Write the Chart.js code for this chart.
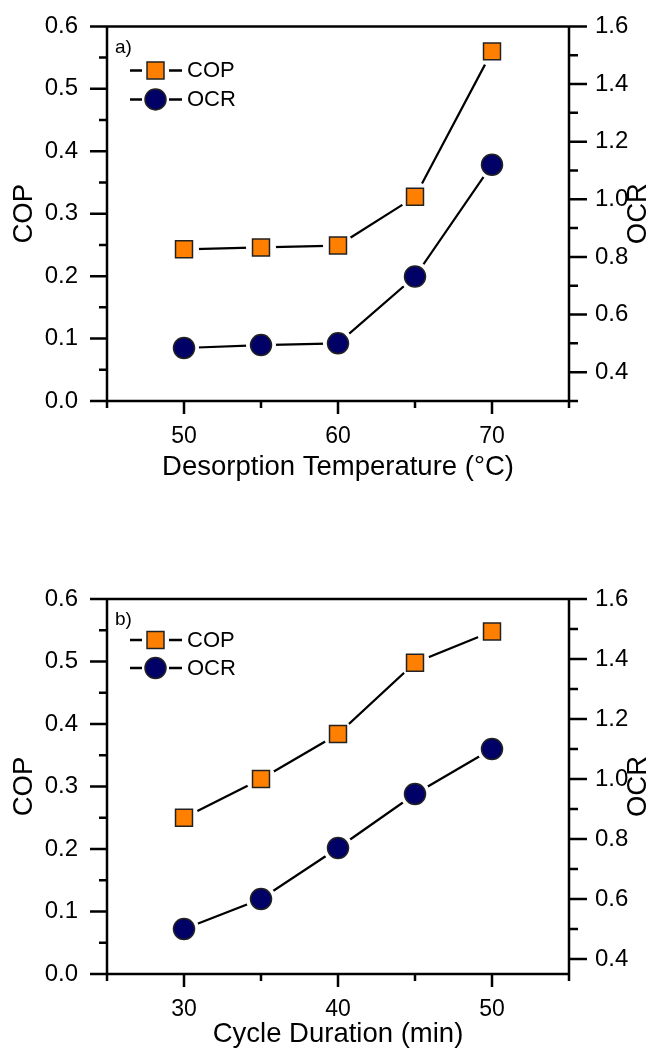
<!DOCTYPE html>
<html>
<head>
<meta charset="utf-8">
<title>COP and OCR</title>
<script src="https://cdn.jsdelivr.net/npm/chart.js@4.4.0/dist/chart.umd.min.js"></script>
<style>
    body { margin: 0; background: #fff; }
    canvas { display: block; }
</style>
</head>
<body>
<canvas id="chart-a" width="656" height="525"></canvas>
<canvas id="chart-b" width="656" height="524"></canvas>
<script>
// a) desorption temperature sweep
const tempValues = [50, 55, 60, 65, 70];
const copByTemp = [0.243, 0.246, 0.249, 0.327, 0.560];
const ocrByTemp = [0.484, 0.494, 0.500, 0.732, 1.120];

// b) cycle duration sweep
const durationValues = [30, 35, 40, 45, 50];
const copByDuration = [0.250, 0.312, 0.384, 0.498, 0.548];
const ocrByDuration = [0.50, 0.60, 0.77, 0.95, 1.10];

// axis ticks
const copTicks = [0, 0.1, 0.2, 0.3, 0.4, 0.5, 0.6];
const copMinorTicks = [0.05, 0.15, 0.25, 0.35, 0.45, 0.55];
const ocrTicks = [0.4, 0.6, 0.8, 1.0, 1.2, 1.4, 1.6];
const ocrMinorTicksA = [0.3, 0.5, 0.7, 0.9, 1.1, 1.3, 1.5];
const ocrMinorTicksB = [0.5, 0.7, 0.9, 1.1, 1.3, 1.5];
const tempTicks = [50, 60, 70];
const tempMinorTicks = [45, 55, 65, 75];
const durationTicks = [30, 40, 50];
const durationMinorTicks = [25, 35, 45, 55];

const ORANGE = '#ff8000';
const NAVY = '#000066';
const EDGE = '#222';
const FONT = "'Liberation Sans', Arial, sans-serif";

Chart.defaults.font.family = FONT;
Chart.defaults.color = '#000';

// frame, outward ticks, axis titles and the inset legend
const framePlugin = {
    id: 'frame',
    afterDatasetsDraw(chart, args, opts) {
        const { ctx, chartArea: a, scales } = chart;
        ctx.save();
        ctx.strokeStyle = '#000';
        ctx.lineWidth = 2.5;
        ctx.beginPath();
        ctx.rect(a.left, a.top, a.right - a.left, a.bottom - a.top);

        const tick = (list, len, fn) => list.forEach(v => fn(v, len));
        const left = (v, len) => { const y = scales.y.getPixelForValue(v); ctx.moveTo(a.left, y); ctx.lineTo(a.left - len, y); };
        const right = (v, len) => { const y = scales.y2.getPixelForValue(v); ctx.moveTo(a.right, y); ctx.lineTo(a.right + len, y); };
        const bottom = (v, len) => { const x = scales.x.getPixelForValue(v); ctx.moveTo(x, a.bottom); ctx.lineTo(x, a.bottom + len); };

        tick(copTicks, 17, left);
        tick(copMinorTicks, 8, left);
        tick(ocrTicks, 18, right);
        tick(opts.ocrMinor, 9, right);
        tick(opts.xMajor, 13, bottom);
        tick(opts.xMinor, 7, bottom);
        ctx.stroke();

        // axis titles
        ctx.fillStyle = '#000';
        ctx.font = '27.5px ' + FONT;
        ctx.textAlign = 'center';
        ctx.textBaseline = 'middle';
        const midY = (a.top + a.bottom) / 2;
        ctx.fillText(opts.xTitle, (a.left + a.right) / 2, a.bottom + opts.xTitleOffset);
        ctx.save();
        ctx.translate(24, midY);
        ctx.rotate(-Math.PI / 2);
        ctx.fillText('COP', 0, 0);
        ctx.restore();
        ctx.save();
        ctx.translate(638, midY);
        ctx.rotate(-Math.PI / 2);
        ctx.fillText('OCR', 0, 0);
        ctx.restore();

        // panel tag and legend
        ctx.textAlign = 'left';
        ctx.font = '19px ' + FONT;
        ctx.fillText(opts.tag, a.left + 8, a.top + 21);
        ctx.font = '22px ' + FONT;
        const rows = [
            { label: 'COP', style: 'rect', radius: 12, fill: ORANGE, y: a.top + opts.legendRows[0] },
            { label: 'OCR', style: 'circle', radius: 10.5, fill: NAVY, y: a.top + opts.legendRows[1] }
        ];
        rows.forEach(r => {
            ctx.strokeStyle = '#000';
            ctx.lineWidth = 2.5;
            ctx.beginPath();
            ctx.moveTo(a.left + 23, r.y); ctx.lineTo(a.left + 35, r.y);
            ctx.moveTo(a.left + 62, r.y); ctx.lineTo(a.left + 75, r.y);
            ctx.stroke();
            ctx.fillStyle = r.fill;
            ctx.strokeStyle = EDGE;
            ctx.lineWidth = 1.5;
            Chart.helpers.drawPoint(ctx, { pointStyle: r.style, radius: r.radius, borderWidth: 1.5, rotation: 0 }, a.left + 48.5, r.y);
            ctx.fillStyle = '#000';
            ctx.fillText(r.label, a.left + 80, r.y + 1);
        });
        ctx.restore();
    }
};

function points(xs, ys) {
    return xs.map((x, i) => ({ x: x, y: ys[i] }));
}

function buildChart(id, cfg) {
    const height = document.getElementById(id).height;
    const lineSet = (data, axis) => ({
        data: data,
        yAxisID: axis,
        showLine: true,
        borderColor: '#000',
        borderWidth: 2.2,
        pointStyle: 'circle',
        pointRadius: 15,
        pointBackgroundColor: '#fff',
        pointBorderWidth: 0,
        order: 2
    });
    const markSet = (data, axis, style, radius, fill) => ({
        data: data,
        yAxisID: axis,
        showLine: false,
        pointStyle: style,
        pointRadius: radius,
        pointBackgroundColor: fill,
        pointBorderColor: EDGE,
        pointBorderWidth: 1.5,
        order: 1
    });
    const cop = points(cfg.xs, cfg.cop);
    const ocr = points(cfg.xs, cfg.ocr);
    const yFont = { size: 24, family: FONT };
    const xFont = { size: 23, family: FONT };

    return new Chart(document.getElementById(id), {
        type: 'scatter',
        data: {
            datasets: [
                lineSet(cop, 'y'),
                lineSet(ocr, 'y2'),
                markSet(cop, 'y', 'rect', 12, ORANGE),
                markSet(ocr, 'y2', 'circle', 10.5, NAVY)
            ]
        },
        options: {
            responsive: false,
            animation: false,
            events: [],
            layout: { padding: { top: cfg.top, left: 0, right: 0, bottom: 0 } },
            plugins: {
                legend: { display: false },
                tooltip: { enabled: false },
                frame: {
                    xMajor: cfg.xMajor,
                    xMinor: cfg.xMinor,
                    ocrMinor: cfg.ocrMinor,
                    xTitle: cfg.xTitle,
                    xTitleOffset: cfg.xTitleOffset,
                    tag: cfg.tag,
                    legendRows: cfg.legendRows
                }
            },
            scales: {
                x: {
                    type: 'linear',
                    min: cfg.xMin,
                    max: cfg.xMax,
                    border: { display: false },
                    grid: { drawOnChartArea: false, color: 'transparent', tickLength: 13 },
                    ticks: { font: xFont, padding: 9, maxRotation: 0, autoSkip: false },
                    afterBuildTicks: s => { s.ticks = cfg.xMajor.map(v => ({ value: v })); },
                    afterFit: s => { s.height = height - cfg.bottom; }
                },
                y: {
                    position: 'left',
                    min: 0,
                    max: 0.6,
                    border: { display: false },
                    grid: { drawOnChartArea: false, color: 'transparent', tickLength: 17 },
                    ticks: { font: yFont, padding: 12, callback: v => v.toFixed(1) },
                    afterBuildTicks: s => { s.ticks = copTicks.map(v => ({ value: v })); },
                    afterFit: s => { s.width = 107; }
                },
                y2: {
                    position: 'right',
                    min: cfg.ocrMin,
                    max: 1.6,
                    border: { display: false },
                    grid: { drawOnChartArea: false, color: 'transparent', tickLength: 18 },
                    ticks: { font: yFont, padding: 8, callback: v => v.toFixed(1) },
                    afterBuildTicks: s => { s.ticks = ocrTicks.map(v => ({ value: v })); },
                    afterFit: s => { s.width = 87; }
                }
            }
        },
        plugins: [framePlugin]
    });
}

buildChart('chart-a', {
    xs: tempValues, cop: copByTemp, ocr: ocrByTemp,
    xMin: 45, xMax: 75, xMajor: tempTicks, xMinor: tempMinorTicks,
    ocrMin: 0.3, ocrMinor: ocrMinorTicksA,
    top: 25, bottom: 401,
    xTitle: 'Desorption Temperature (\u00B0C)', xTitleOffset: 66,
    tag: 'a)', legendRows: [44, 73]
});

buildChart('chart-b', {
    xs: durationValues, cop: copByDuration, ocr: ocrByDuration,
    xMin: 25, xMax: 55, xMajor: durationTicks, xMinor: durationMinorTicks,
    ocrMin: 0.35, ocrMinor: ocrMinorTicksB,
    top: 74, bottom: 449,
    xTitle: 'Cycle Duration (min)', xTitleOffset: 60,
    tag: 'b)', legendRows: [41, 69]
});
</script>
</body>
</html>
